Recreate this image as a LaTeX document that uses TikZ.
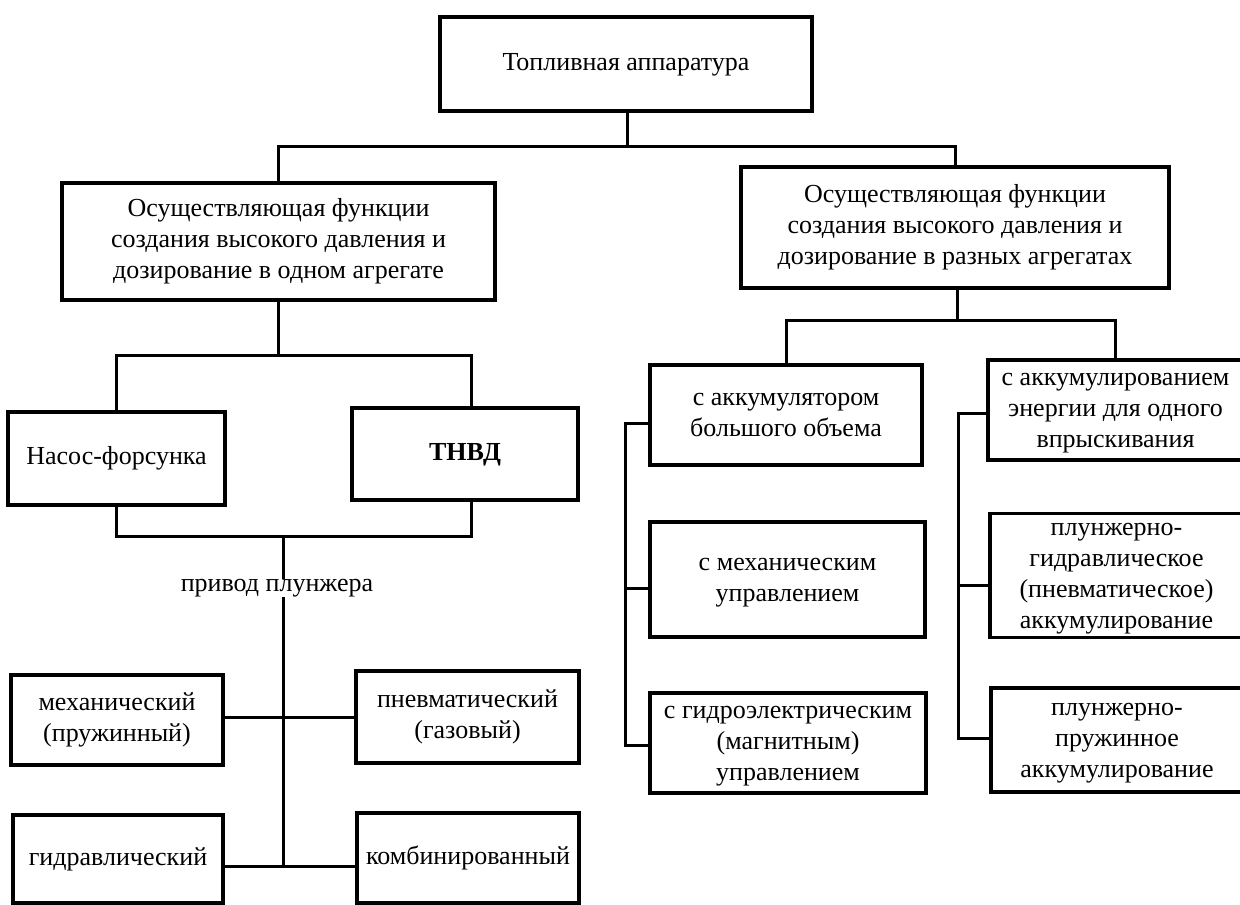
\documentclass[tikz,border=0pt]{standalone}
\usepackage{fontspec}
\setmainfont{Liberation Serif}
\newcommand{\boxtext}[2][0pt]{\raisebox{#1}{\begin{tabular}{@{}c@{}}#2\end{tabular}}}
\tikzset{
  box/.style={draw=black, line width=3.5pt, inner sep=0pt, font=\fontsize{26}{31}\selectfont},
  conn/.style={draw=black, line width=3pt},
  lbl/.style={inner sep=0pt, font=\fontsize{26}{31}\selectfont}
}
\begin{document}
\begin{tikzpicture}[x=1pt,y=-1pt]
\useasboundingbox (0,0) rectangle (1240,905);
% level 0
\node[box, minimum width=372pt, minimum height=94pt] (top) at (626,64) {\boxtext[-2pt]{Топливная аппаратура}};
% level 1
\node[box, minimum width=433pt, minimum height=117pt] (L) at (278.5,241.5) {\boxtext{Осуществляющая функции\\создания высокого давления и\\дозирование в одном агрегате}};
\node[box, minimum width=428pt, minimum height=121pt] (R) at (955,227.5) {\boxtext[-9pt]{Осуществляющая функции\\создания высокого давления и\\дозирование в разных агрегатах}};
% left branch
\node[box, minimum width=217pt, minimum height=93pt] (nasos) at (116.5,458.5) {\boxtext[-3pt]{Насос-форсунка}};
\node[box, minimum width=226pt, minimum height=92pt] (tnvd) at (465,454) {\boxtext{\textbf{ТНВД}}};
\node[lbl] (privod) at (277,588) {привод плунжера};
\node[box, minimum width=212pt, minimum height=90pt] (mech) at (117,720) {\boxtext{механический\\(пружинный)}};
\node[box, minimum width=223pt, minimum height=92pt] (pnev) at (467.5,717) {\boxtext{пневматический\\(газовый)}};
\node[box, minimum width=210pt, minimum height=88pt] (gidr) at (118,859) {\boxtext{гидравлический}};
\node[box, minimum width=222pt, minimum height=90pt] (komb) at (468,858) {\boxtext{комбинированный}};
% right branch
\node[box, minimum width=272pt, minimum height=100pt] (akk) at (786,415) {\boxtext[6pt]{с аккумулятором\\большого объема}};
\node[box, minimum width=275pt, minimum height=115pt] (mechupr) at (787.5,579.5) {\boxtext[7pt]{с механическим\\управлением}};
\node[box, minimum width=276pt, minimum height=100pt] (gidroel) at (788,743) {\boxtext[4pt]{с гидроэлектрическим\\(магнитным)\\управлением}};
\node[box, minimum width=255pt, minimum height=100pt] (akk2) at (1115.5,410) {\boxtext{с аккумулированием\\энергии для одного\\впрыскивания}};
\node[box, minimum width=253pt, minimum height=115pt] (plg) at (1116.5,575.5) {\boxtext[4pt]{плунжерно-\\гидравлическое\\(пневматическое)\\аккумулирование}};
\node[box, minimum width=252pt, minimum height=104pt] (plpr) at (1117,740) {\boxtext[5pt]{плунжерно-\\пружинное\\аккумулирование}};
% junction coordinates
\coordinate (j1) at (627,146);
\coordinate (j2) at (278.5,355);
\coordinate (t1) at (471,355);
\coordinate (j3) at (283,536);
\coordinate (t2) at (471,536);
\coordinate (j4) at (283,717);
\coordinate (j5) at (283,866);
\coordinate (j6) at (957,320);
\coordinate (k) at (1115,320);
\coordinate (a2) at (625,423);
\coordinate (a3) at (625,588);
\coordinate (a4) at (625,745);
\coordinate (b2) at (958,413);
\coordinate (b3) at (958,585);
\coordinate (b4) at (958,738);
% connectors
\draw[conn] (top.south -| j1) -- (j1);
\draw[conn] (L.north) |- (j1) -| (R.north);
\draw[conn] (L.south) -- (j2);
\draw[conn] (nasos.north) |- (j2) -- (t1) -- (t1 |- tnvd.north);
\draw[conn] (nasos.south) |- (j3) -- (t2) -- (t2 |- tnvd.south);
\draw[conn] (j3) -- (j3 |- privod.north);
\draw[conn] (privod.south -| j5) -- (j5);
\draw[conn] (mech.east |- j4) -- (pnev.west |- j4);
\draw[conn] (gidr.east |- j5) -- (komb.west |- j5);
\draw[conn] (R.south -| j6) -- (j6);
\draw[conn] (akk.north) |- (j6) -- (k) -- (k |- akk2.north);
\draw[conn] (a2 -| akk.west) -- (a2) -- (a4) -- (a4 -| gidroel.west);
\draw[conn] (a3) -- (a3 -| mechupr.west);
\draw[conn] (b2 -| akk2.west) -- (b2) -- (b4) -- (b4 -| plpr.west);
\draw[conn] (b3) -- (b3 -| plg.west);
\end{tikzpicture}
\end{document}
